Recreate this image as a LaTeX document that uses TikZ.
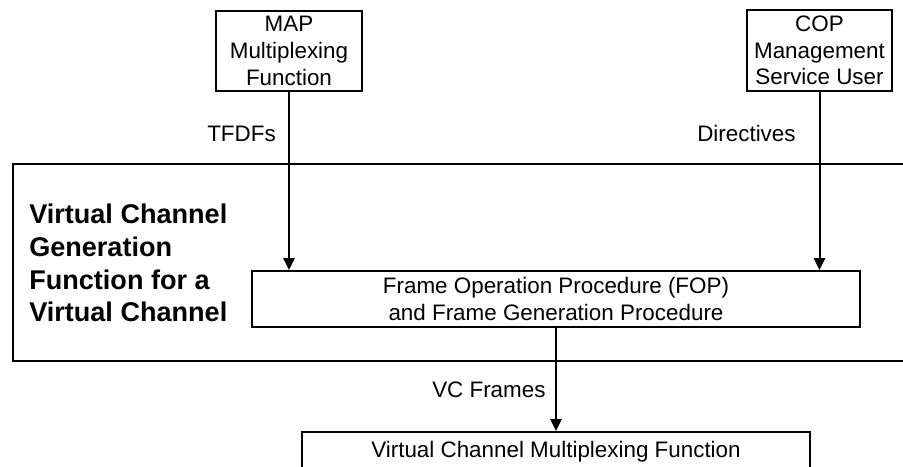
\documentclass[tikz,border=0pt]{standalone}
\usepackage{fontspec}
\setmainfont{Liberation Sans}
\usetikzlibrary{arrows.meta}

\tikzset{
  box/.style={draw=black, line width=1.5pt, align=center, inner sep=0pt, font=\fontsize{16.8}{20}\selectfont},
  lbl/.style={inner sep=0pt, font=\fontsize{16.8}{20}\selectfont},
  flow/.style={draw=black, line width=1.5pt, -{Triangle[width=8.5pt,length=9pt]}}
}

\begin{document}
\begin{tikzpicture}[x=0.75pt,y=-0.75pt]
\useasboundingbox (0,0) rectangle (903,467);
\clip (0,0) rectangle (903,467);

\node [box, minimum width=109.5pt, minimum height=60pt] (map) at (289,51) {MAP\\Multiplexing\\Function};
\node [box, minimum width=108.75pt, minimum height=60.75pt] (cop) at (819.5,50.5) {COP\\Management\\Service User};

\node [box, minimum width=672.75pt, minimum height=147.75pt] (vcgfbox) at (461.5,262.5) {};
\node [anchor=north west, inner sep=0pt, align=left, font=\fontsize{20.3}{24.5}\selectfont\bfseries] (vcgf) at (29,204) {Virtual Channel\\Generation\\Function for a\\Virtual Channel};

\node [box, minimum width=456pt, minimum height=42pt] (fop) at (556,299) {Frame Operation Procedure (FOP)\\and Frame Generation Procedure};
\node [box, minimum width=381pt, minimum height=30pt] (vcmf) at (556,452) {Virtual Channel Multiplexing Function};

\node [lbl, anchor=base west] (tfdfs) at (207,142) {TFDFs};
\node [lbl, anchor=base west] (dirs) at (697,142) {Directives};
\node [lbl, anchor=base west] (vcframes) at (432,397) {VC Frames};

\draw [flow] (map.south) -- (map.south |- fop.north);
\draw [flow] (cop.south) -- (cop.south |- fop.north);
\draw [flow] (fop.south) -- (vcmf.north);
\end{tikzpicture}
\end{document}
